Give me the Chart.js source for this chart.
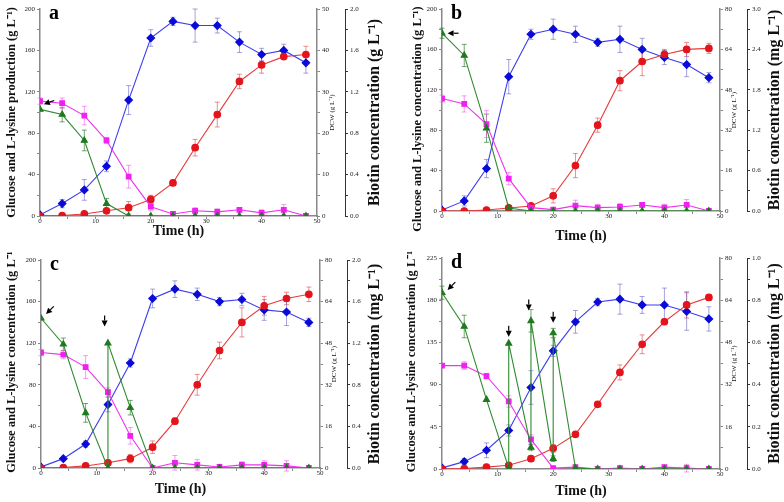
<!DOCTYPE html>
<html>
<head>
<meta charset="utf-8">
<script src="https://cdn.jsdelivr.net/npm/chart.js@4.4.1/dist/chart.umd.min.js"></script>
<style>
  body { margin: 0; background: #fff; width: 784px; height: 502px; position: relative; overflow: hidden; }
  canvas { position: absolute; }
</style>
</head>
<body>
<canvas id="panelA" width="392" height="251" style="left:0;top:0"></canvas>
<canvas id="panelB" width="392" height="251" style="left:392px;top:0"></canvas>
<canvas id="panelC" width="392" height="251" style="left:0;top:251px"></canvas>
<canvas id="panelD" width="392" height="251" style="left:392px;top:251px"></canvas>
<script>
// sampling times (h)
const time = [0, 4, 8, 12, 16, 20, 24, 28, 32, 36, 40, 44, 48]

// panel a
const lysA = [0, 0.5, 2, 5, 8, 16, 32, 66, 98, 130, 146, 154, 156]
const lysErrA = [0, 0, 1, 1, 6, 4, 2, 8, 12, 7, 8, 3, 8]
const glcTimeA = time
const glcA = [103, 98, 73, 12, 0, 0, 0, 0, 0, 0, 0, 0, 0]
const glcErrA = [0, 7, 10, 5, 0, 0, 0, 0, 0, 0, 0, 0, 0]
const dcwA = [0.3, 3, 6.3, 12, 28, 43, 47, 46, 46, 42, 39, 40, 37]
const dcwErrA = [0, 1, 2.5, 1.3, 3.5, 2, 1, 4, 1.8, 2.5, 1.5, 1.5, 2.5]
const bioA = [1.11, 1.09, 0.97, 0.73, 0.38, 0.09, 0.02, 0.05, 0.04, 0.06, 0.03, 0.06, 0]
const bioErrA = [0.03, 0.05, 0.09, 0.03, 0.11, 0.04, 0.02, 0.03, 0.03, 0.02, 0.03, 0.05, 0]
const arrowTipsA = [[0.7, 108]]
const arrowAnglesA = [160]

// panel b
const lysB = [0, 0, 1, 3, 5, 15, 45, 85, 129, 148, 155, 160, 161]
const lysErrB = [0, 0, 0, 0, 0, 7, 12, 7, 10, 14, 5, 7, 5]
const glcTimeB = time
const glcB = [176, 154, 82, 3, 0, 0, 0, 0, 0, 0, 0, 0, 0]
const glcErrB = [5, 11, 14, 2, 0, 0, 0, 0, 0, 0, 0, 0, 0]
const dcwB = [0.4, 4, 16.8, 53.2, 70, 72, 70, 66.8, 68, 64, 60.8, 58, 52.8]
const dcwErrB = [0, 2, 3.6, 6.8, 2, 4, 3.2, 1.6, 5.2, 4.4, 2.8, 4.8, 2]
const bioB = [1.67, 1.59, 1.29, 0.48, 0.05, 0.02, 0.08, 0.05, 0.06, 0.09, 0.05, 0.09, 0]
const bioErrB = [0.05, 0.12, 0.2, 0.09, 0, 0, 0.08, 0.05, 0.05, 0.03, 0.05, 0.08, 0]
const arrowTipsB = [[1, 176]]
const arrowAnglesB = [180]

// panel c
const lysC = [0, 0.5, 2, 5, 9, 20, 45, 80, 113, 140, 156, 163, 167]
const lysErrC = [0, 0, 1, 1, 4, 6, 3, 10, 8, 14, 9, 6, 7]
const glcTimeC = [0, 4, 8, 12, 12, 16, 20, 24, 28, 32, 36, 40, 44, 48]
const glcC = [144, 119, 53, 0, 120, 58, 0, 0, 0, 0, 0, 0, 0, 0]
const glcErrC = [0, 6, 9, 0, 0, 7, 0, 0, 0, 0, 0, 0, 0, 0]
const dcwC = [0.4, 3.6, 9.2, 24.4, 40.4, 65.2, 68.8, 66.8, 64, 64.8, 60.8, 60, 56]
const dcwErrC = [0, 0.4, 1.2, 2.8, 1.6, 3.6, 3.2, 2.4, 1.6, 2.4, 4, 5.2, 1.6]
const bioC = [1.11, 1.09, 0.97, 0.73, 0.31, 0, 0.05, 0.03, 0.01, 0.03, 0.03, 0.02, 0]
const bioErrC = [0.03, 0.04, 0.11, 0.04, 0.08, 0.02, 0.07, 0.05, 0, 0.03, 0.04, 0.05, 0]
const arrowTipsC = [[0.9, 148], [11.4, 136]]
const arrowAnglesC = [135, 90]

// panel d
const lysD = [0, 0.5, 2, 4, 11, 22, 37, 69, 103, 133, 157, 175, 183]
const lysErrD = [0, 0, 1, 2, 3, 4, 3, 2, 8, 10, 3, 14, 3]
const glcTimeD = [0, 4, 8, 12, 12, 16, 16, 20, 20, 24, 28, 32, 36, 40, 44, 48]
const glcD = [188, 152, 74, 1, 134, 23, 158, 11, 145, 1, 0, 0, 0, 0, 0, 0]
const glcErrD = [7, 12, 0, 0, 0, 3, 12, 3, 5, 0, 0, 0, 0, 0, 0, 0]
const dcwD = [0.4, 2.8, 7.1, 14.6, 30.9, 44.8, 55.8, 63.3, 64.4, 62.2, 62.2, 59.7, 56.9]
const dcwErrD = [0, 1.1, 2.8, 2.1, 6.4, 2.1, 4.3, 1.4, 5.7, 3.2, 6.4, 7.1, 4.6]
const bioD = [0.49, 0.49, 0.44, 0.32, 0.14, 0.004, 0.009, 0, 0.004, 0, 0.009, 0.004, 0]
const bioErrD = [0, 0.018, 0.013, 0.027, 0.022, 0, 0, 0, 0, 0, 0, 0.018, 0]
const arrowTipsD = [[1, 191], [12, 141], [15.6, 169], [20, 156]]
const arrowAnglesD = [135, 90, 90, 90]

const SERIF = '"Liberation Serif", "Times New Roman", serif'

const series = (label, xs, ys, errs, axis, color, line, errColor, style, radius) => ({
  label,
  data: xs.map((x, i) => ({ x, y: ys[i] })),
  errors: errs,
  errorColor: errColor,
  yAxisID: axis,
  borderColor: line,
  backgroundColor: color,
  pointBackgroundColor: color,
  pointBorderColor: color,
  pointStyle: style,
  pointRadius: radius,
  borderWidth: 1.1,
  tension: 0
})

const errorBars = {
  id: 'errorBars',
  beforeDatasetsDraw(chart) {
    const ctx = chart.ctx
    chart.data.datasets.forEach((ds, i) => {
      const meta = chart.getDatasetMeta(i)
      const ys = chart.scales[ds.yAxisID]
      ctx.save()
      ctx.strokeStyle = ds.errorColor
      ctx.lineWidth = 1
      meta.data.forEach((pt, j) => {
        const e = ds.errors[j]
        if (!e) return
        const v = ds.data[j].y
        const y1 = ys.getPixelForValue(v + e)
        const y2 = ys.getPixelForValue(v - e)
        ctx.beginPath()
        ctx.moveTo(pt.x, y1); ctx.lineTo(pt.x, y2)
        ctx.moveTo(pt.x - 2.5, y1); ctx.lineTo(pt.x + 2.5, y1)
        ctx.moveTo(pt.x - 2.5, y2); ctx.lineTo(pt.x + 2.5, y2)
        ctx.stroke()
      })
      ctx.restore()
    })
  }
}

function majorOnly(step, digits) {
  return function (v) {
    const r = v / step
    if (Math.abs(r - Math.round(r)) > 1e-6) return ''
    return digits ? v.toFixed(digits) : v
  }
}

function makePanel(id, p) {
  const tickFont = { family: SERIF, size: 7 }
  const axisLine = { color: '#888', width: 1.5 }
  const tickGrid = { display: true, drawOnChartArea: false, tickLength: 3, color: '#888' }

  const panelPlugins = [errorBars, {
    id: 'extras',
    afterDraw(chart) {
      const ctx = chart.ctx
      const ca = chart.chartArea
      // panel letter
      ctx.save()
      ctx.fillStyle = '#000'
      ctx.font = 'bold 20px ' + SERIF
      ctx.textBaseline = 'alphabetic'
      ctx.fillText(p.letter, ca.left + 9, ca.top + 10)
      ctx.restore()
      // axis titles, all read bottom to top
      const mid = (ca.top + ca.bottom) / 2
      const sideTitle = (x, y, text, font) => {
        ctx.save()
        ctx.translate(x, y)
        ctx.rotate(-Math.PI / 2)
        ctx.font = font
        ctx.fillStyle = '#111'
        ctx.textAlign = 'center'
        ctx.textBaseline = 'middle'
        ctx.fillText(text, 0, 0)
        ctx.restore()
      }
      sideTitle(chart.scales.y.left + p.leftTitleX, mid + p.leftTitleShift, p.leftTitle, 'bold 12.5px ' + SERIF)
      sideTitle(chart.scales.dcw.right - p.dcwTitleOff, mid, 'DCW (g L\u207B\u00B9)', '7px ' + SERIF)
      sideTitle(chart.scales.bio.right - p.bioTitleOff, mid, p.bioTitle, 'bold 16px ' + SERIF)
    },
    afterDatasetsDraw(chart) {
      const ctx = chart.ctx
      const xs = chart.scales.x
      const ys = chart.scales.y
      ctx.save()
      ctx.fillStyle = '#000'
      ctx.strokeStyle = '#000'
      ctx.lineWidth = 1.2
      p.arrowTips.forEach((t, i) => {
        const px = xs.getPixelForValue(t[0])
        const py = ys.getPixelForValue(t[1])
        const a = p.arrowAngles[i] * Math.PI / 180
        const dx = Math.cos(a), dy = Math.sin(a)
        const bx = px - dx * 6, by = py - dy * 6
        ctx.beginPath()
        ctx.moveTo(px, py)
        ctx.lineTo(bx - dy * 3, by + dx * 3)
        ctx.lineTo(bx + dy * 3, by - dx * 3)
        ctx.closePath()
        ctx.fill()
        ctx.beginPath()
        ctx.moveTo(bx, by)
        ctx.lineTo(bx - dx * 5, by - dy * 5)
        ctx.stroke()
      })
      ctx.restore()
    }
  }]

  new Chart(document.getElementById(id), {
    type: 'line',
    data: {
      datasets: [
        series('Glucose', p.glcTime, p.glc, p.glcErr, 'y', '#1f7a1f', '#2f8a2f', 'rgba(40,120,40,0.65)', 'triangle', 3.5),
        series('Biotin', time, p.bio, p.bioErr, 'bio', '#f020f0', '#ee33ee', 'rgba(235,90,235,0.6)', 'rect', 3.3),
        series('L-lysine', time, p.lys, p.lysErr, 'y', '#e3141c', '#e83a3a', 'rgba(220,70,70,0.6)', 'circle', 3.3),
        series('DCW', time, p.dcw, p.dcwErr, 'dcw', '#0a0ad8', '#3c3cf0', 'rgba(90,90,190,0.55)', 'rectRot', 3.8)
      ]
    },
    options: {
      responsive: false,
      animation: false,
      layout: { padding: { top: p.top, left: 0, right: 0, bottom: 0 } },
      plugins: { legend: { display: false }, tooltip: { enabled: false } },
      scales: {
        x: {
          type: 'linear', min: 0, max: 50,
          ticks: { stepSize: 5, autoSkip: false, maxRotation: 0, padding: -2, font: tickFont, color: '#222', callback: majorOnly(10, 0) },
          grid: tickGrid, border: axisLine,
          title: { display: true, text: 'Time (h)', color: '#111', font: { family: SERIF, size: 14, weight: 'bold' }, padding: { top: 0, bottom: p.timePad } },
          afterFit: s => { s.height = p.bottomH }
        },
        y: {
          position: 'left', min: 0, max: p.leftMax,
          ticks: { stepSize: p.leftStep / 2, autoSkip: false, padding: 2, font: tickFont, color: '#222', callback: majorOnly(p.leftStep, 0) },
          grid: tickGrid, border: axisLine,
          afterFit: s => { s.width = p.leftW }
        },
        dcw: {
          position: 'right', weight: 0, min: 0, max: p.dcwMax,
          ticks: { stepSize: p.dcwStep / 2, autoSkip: false, padding: 2, font: tickFont, color: '#222', callback: majorOnly(p.dcwStep, 0) },
          grid: tickGrid, border: axisLine,
          afterFit: s => { s.width = p.dcwW }
        },
        bio: {
          position: 'right', weight: 1, min: 0, max: p.bioMax,
          ticks: { stepSize: p.bioStep / 2, autoSkip: false, padding: 2, font: tickFont, color: '#222', callback: majorOnly(p.bioStep, 1) },
          grid: { display: true, drawOnChartArea: false, tickLength: 3, color: '#333' },
          border: { color: '#333', width: 1 },
          afterFit: s => { s.width = p.bioW }
        }
      }
    },
    plugins: panelPlugins
  })
}

makePanel('panelA', {
  letter: 'a', lys: lysA, lysErr: lysErrA, glcTime: glcTimeA, glc: glcA, glcErr: glcErrA,
  dcw: dcwA, dcwErr: dcwErrA, bio: bioA, bioErr: bioErrA,
  arrowTips: arrowTipsA, arrowAngles: arrowAnglesA,
  leftMax: 200, leftStep: 40, dcwMax: 50, dcwStep: 10, bioMax: 2.0, bioStep: 0.4,
  leftTitle: 'Glucose and L-lysine production (g L\u207B\u00B9)',
  bioTitle: 'Biotin concentration (g L\u207B\u00B9)',
  top: 9, bottomH: 35, leftW: 40, dcwW: 28, bioW: 47,
  leftTitleX: 12, leftTitleShift: 0, timePad: 11, dcwTitleOff: 13, bioTitleOff: 17
})

makePanel('panelB', {
  letter: 'b', lys: lysB, lysErr: lysErrB, glcTime: glcTimeB, glc: glcB, glcErr: glcErrB,
  dcw: dcwB, dcwErr: dcwErrB, bio: bioB, bioErr: bioErrB,
  arrowTips: arrowTipsB, arrowAngles: arrowAnglesB,
  leftMax: 200, leftStep: 40, dcwMax: 80, dcwStep: 16, bioMax: 3.0, bioStep: 0.6,
  leftTitle: 'Glucose and L-lysine concentration (g L\u207B\u00B9)',
  bioTitle: 'Biotin concentration (mg L\u207B\u00B9)',
  top: 9, bottomH: 40, leftW: 50, dcwW: 27, bioW: 37,
  leftTitleX: 26, leftTitleShift: 9, timePad: 6, dcwTitleOff: 13, bioTitleOff: 9
})

makePanel('panelC', {
  letter: 'c', lys: lysC, lysErr: lysErrC, glcTime: glcTimeC, glc: glcC, glcErr: glcErrC,
  dcw: dcwC, dcwErr: dcwErrC, bio: bioC, bioErr: bioErrC,
  arrowTips: arrowTipsC, arrowAngles: arrowAnglesC,
  leftMax: 200, leftStep: 40, dcwMax: 80, dcwStep: 16, bioMax: 2.0, bioStep: 0.4,
  leftTitle: 'Glucose and L-lysine concentration (g L\u207B\u00B9)',
  bioTitle: 'Biotin concentration (mg L\u207B\u00B9)',
  top: 9, bottomH: 34, leftW: 41, dcwW: 27, bioW: 45,
  leftTitleX: 12, leftTitleShift: -4, timePad: 4, dcwTitleOff: 13, bioTitleOff: 17
})

makePanel('panelD', {
  letter: 'd', lys: lysD, lysErr: lysErrD, glcTime: glcTimeD, glc: glcD, glcErr: glcErrD,
  dcw: dcwD, dcwErr: dcwErrD, bio: bioD, bioErr: bioErrD,
  arrowTips: arrowTipsD, arrowAngles: arrowAnglesD,
  leftMax: 225, leftStep: 45, dcwMax: 80, dcwStep: 16, bioMax: 1.0, bioStep: 0.2,
  leftTitle: 'Glucose and L-lysine concentration (g L\u207B\u00B9)',
  bioTitle: 'Biotin concentration (mg L\u207B\u00B9)',
  top: 7, bottomH: 33, leftW: 50, dcwW: 27, bioW: 37,
  leftTitleX: 20, leftTitleShift: -4, timePad: 2, dcwTitleOff: 13, bioTitleOff: 9
})
</script>
</body>
</html>
